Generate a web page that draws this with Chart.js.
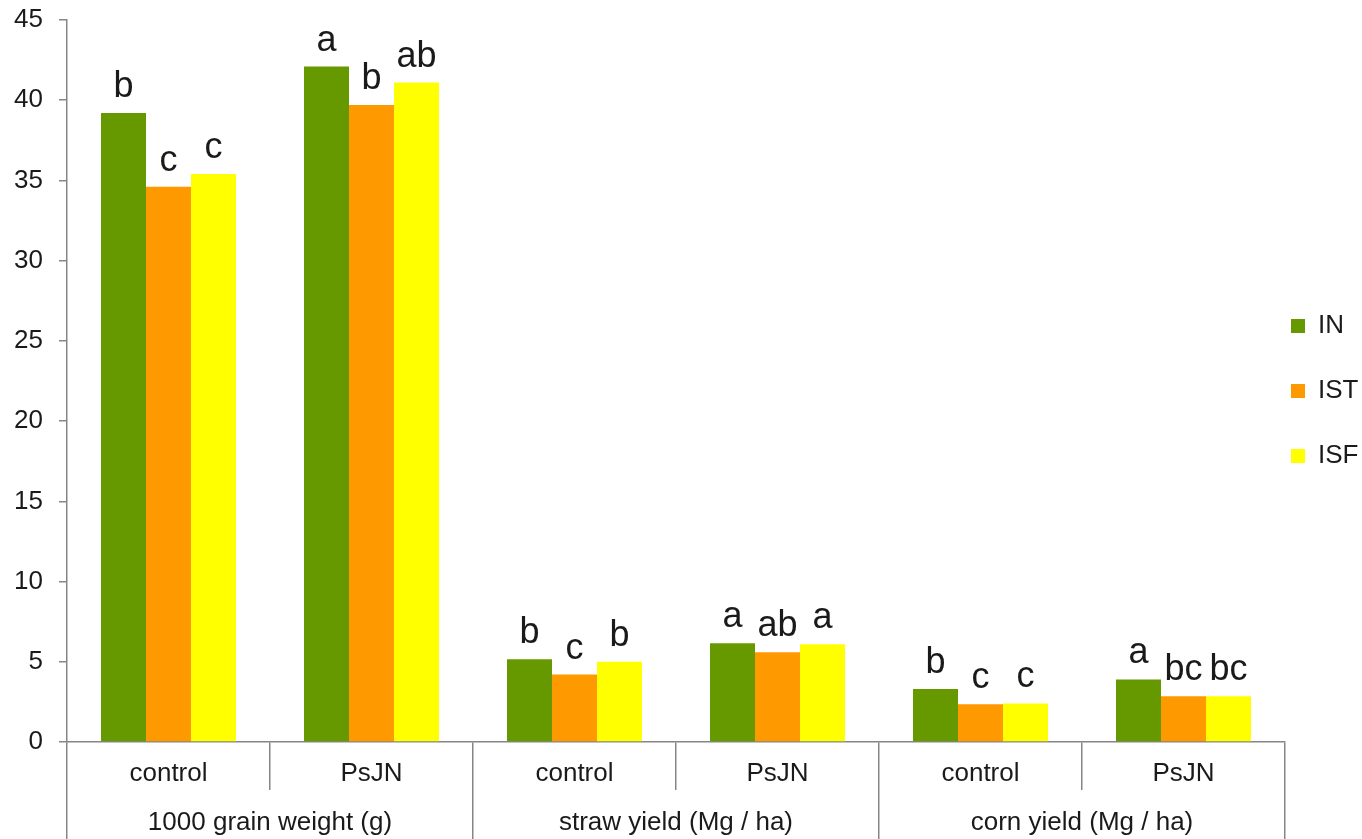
<!DOCTYPE html>
<html>
<head>
<meta charset="utf-8">
<title>Grain weight and yield</title>
<script src="https://cdn.jsdelivr.net/npm/chart.js@4/dist/chart.umd.min.js"></script>
<style>
  html, body { margin: 0; padding: 0; background: #ffffff; }
  #wrap { width: 1362px; height: 839px; }
</style>
</head>
<body>
<div id="wrap"><canvas id="chart" width="1362" height="839"></canvas></div>
<script>
// Treatment per bar cluster (inner axis) and measured trait (outer axis)
const treatments = ['control', 'PsJN', 'control', 'PsJN', 'control', 'PsJN'];
const traits = ['1000 grain weight (g)', 'straw yield (Mg / ha)', 'corn yield (Mg / ha)'];
const seriesNames = ['IN', 'IST', 'ISF'];

// Mean values per series
const valuesIN  = [39.2, 42.1, 5.15, 6.15, 3.3, 3.9];
const valuesIST = [34.6, 39.7, 4.2, 5.6, 2.35, 2.85];
const valuesISF = [35.4, 41.1, 5.0, 6.1, 2.4, 2.85];

// Significance letters per bar
const lettersIN  = ['b', 'a', 'b', 'a', 'b', 'a'];
const lettersIST = ['c', 'b', 'c', 'ab', 'c', 'bc'];
const lettersISF = ['c', 'ab', 'b', 'a', 'c', 'bc'];

// Value axis ticks
const yMin = 0, yMax = 45, yStep = 5;

const colors = ['#669900', '#ff9900', '#ffff00'];
const axisGray = '#868686';
const textColor = '#1a1a1a';
const FONT = "'Liberation Sans', Arial, sans-serif";

// Draws the significance letter above each bar
const letterPlugin = {
  id: 'letters',
  afterDatasetsDraw(chart) {
    const ctx = chart.ctx;
    ctx.save();
    ctx.font = '36px ' + FONT;
    ctx.fillStyle = textColor;
    ctx.textAlign = 'center';
    ctx.textBaseline = 'alphabetic';
    chart.data.datasets.forEach((ds, di) => {
      const meta = chart.getDatasetMeta(di);
      meta.data.forEach((bar, i) => {
        ctx.fillText(ds.letters[i], bar.x, bar.y - 16);
      });
    });
    ctx.restore();
  }
};

const seriesValues = [valuesIN, valuesIST, valuesISF];
const seriesLetters = [lettersIN, lettersIST, lettersISF];

new Chart(document.getElementById('chart'), {
  type: 'bar',
  data: {
    labels: treatments,
    datasets: seriesNames.map((name, k) => ({
      label: name,
      data: seriesValues[k],
      letters: seriesLetters[k],
      backgroundColor: colors[k],
      borderWidth: 0,
      categoryPercentage: 0.665,
      barPercentage: 1.0
    }))
  },
  options: {
    responsive: false,
    animation: false,
    layout: { padding: { top: 20, left: 0, right: 0, bottom: 0 } },
    plugins: {
      tooltip: { enabled: false },
      legend: {
        position: 'right',
        fullSize: false,
        maxWidth: 77,
        title: { display: true, text: '', padding: 0, font: { size: 10, lineHeight: '53px' } },
        labels: {
          boxWidth: 14,
          boxHeight: 14,
          padding: 6,
          color: textColor,
          font: { family: FONT, size: 26, lineHeight: '59px' },
          generateLabels(chart) {
            return Chart.defaults.plugins.legend.labels.generateLabels(chart)
              .map(item => Object.assign(item, { text: [item.text], lineWidth: 0 }));
          }
        }
      }
    },
    scales: {
      x: {
        type: 'category',
        position: 'bottom',
        weight: 0,
        offset: true,
        grid: {
          display: true,
          offset: true,
          drawOnChartArea: false,
          drawTicks: true,
          tickLength: 48,
          color: axisGray,
          lineWidth: 1.5
        },
        border: { display: true, color: axisGray, width: 1.5 },
        ticks: {
          color: textColor,
          font: { family: FONT, size: 26 },
          padding: -32,
          maxRotation: 0,
          autoSkip: false
        },
        afterFit(scale) { scale.height = 48; }
      },
      x2: {
        type: 'category',
        position: 'bottom',
        weight: 1,
        labels: traits,
        offset: true,
        grid: {
          display: true,
          offset: true,
          drawOnChartArea: false,
          drawTicks: true,
          tickLength: 49,
          color: axisGray,
          lineWidth: 1.5
        },
        border: { display: false },
        ticks: {
          color: textColor,
          font: { family: FONT, size: 26 },
          padding: -32,
          maxRotation: 0,
          autoSkip: false
        },
        afterFit(scale) { scale.height = 49; }
      },
      y: {
        position: 'left',
        min: yMin,
        max: yMax,
        grid: {
          display: true,
          drawOnChartArea: false,
          drawTicks: true,
          tickLength: 8,
          color: axisGray,
          lineWidth: 1.5
        },
        border: { display: true, color: axisGray, width: 1.5 },
        ticks: {
          stepSize: yStep,
          color: textColor,
          font: { family: FONT, size: 26 },
          padding: 16
        },
        afterFit(scale) {
          scale.width = 67;
          scale.paddingTop = 0;
          scale.paddingBottom = 0;
        }
      }
    }
  },
  plugins: [letterPlugin]
});
</script>
</body>
</html>
